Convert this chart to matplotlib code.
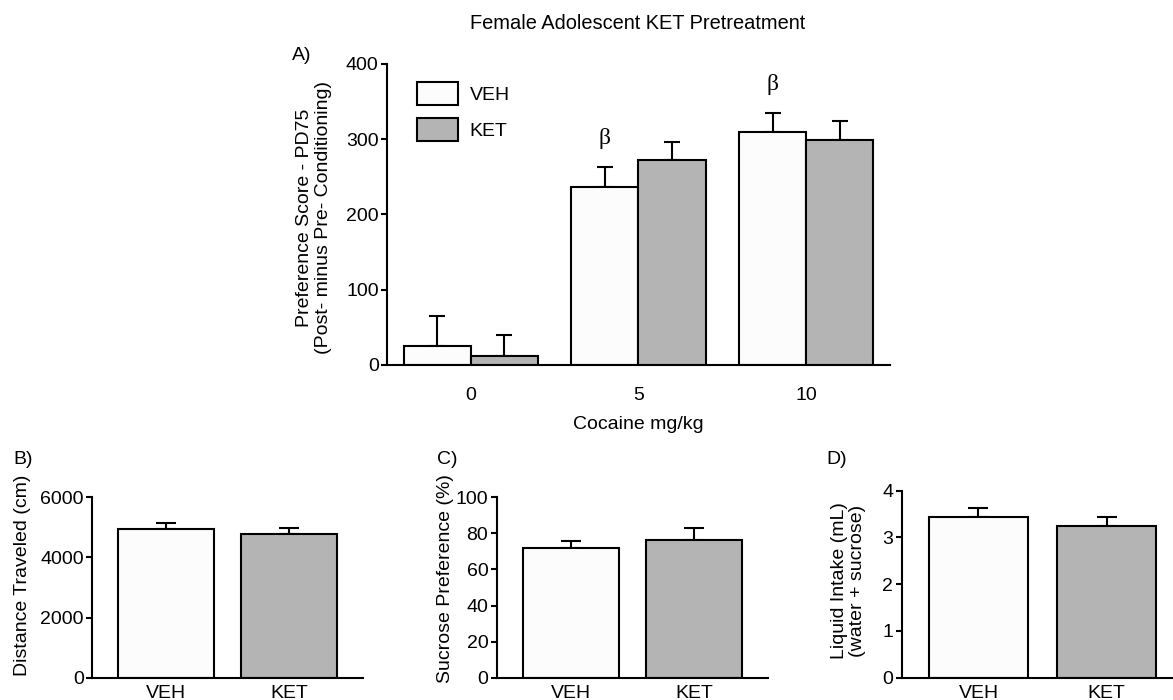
import matplotlib

matplotlib.use("Agg")
import matplotlib.pyplot as plt  # noqa: E402
from matplotlib.patches import Patch  # noqa: E402

plt.rcParams["font.family"] = ["Liberation Sans", "DejaVu Sans"]
plt.rcParams["font.size"] = 14

# Panel A: CPP score by cocaine dose
doses = ["0", "5", "10"]
veh_score = [25.6, 236.5, 309.0]
veh_score_err = [40.0, 27.0, 25.5]
ket_score = [12.4, 272.8, 298.6]
ket_score_err = [27.0, 23.5, 25.5]
beta_marks = [False, True, True]  # beta above VEH bar

# Panels B-D: VEH vs KET
groups = ["VEH", "KET"]
distance = [4945, 4770]
distance_err = [200, 200]
sucrose = [71.7, 76.5]
sucrose_err = [4.3, 6.2]
intake = [3.44, 3.24]
intake_err = [0.19, 0.19]

VEH_C = "#fcfcfc"
KET_C = "#b4b4b4"
LW = 1.5


def style(ax, top, ticks):
    for s in ("top", "right"):
        ax.spines[s].set_visible(False)
    for s in ("left", "bottom"):
        ax.spines[s].set_linewidth(LW)
    ax.set_ylim(0, top)
    ax.set_yticks(ticks)
    ax.tick_params(axis="y", length=4, width=LW, pad=2, labelsize=14)
    ax.tick_params(axis="x", length=0, labelsize=14)


def small(ax, vals, errs, top, ticks, ylabel, lab_xy):
    xs = range(len(groups))
    ax.bar(xs, vals, width=0.78, color=[VEH_C, KET_C], edgecolor="black",
           linewidth=LW, zorder=2)
    ax.errorbar(xs, vals, yerr=[[0] * len(vals), errs], fmt="none",
                ecolor="black", elinewidth=LW, capsize=7, capthick=LW, zorder=1)
    style(ax, top, ticks)
    ax.set_xticks(list(xs))
    ax.set_xticklabels(groups)
    ax.tick_params(axis="x", pad=5)
    ax.set_ylabel(ylabel, va="center", fontsize=14)
    ax.yaxis.set_label_coords(*lab_xy)


fig = plt.figure(figsize=(11.73, 7.0), dpi=100)

# --- A ---
axA = fig.add_axes([0.3299, 0.4786, 0.4288, 0.43])
x = list(range(len(doses)))
w = 0.4
xv = [i - w / 2 for i in x]
xk = [i + w / 2 for i in x]
axA.bar(xv, veh_score, width=w, color=VEH_C, edgecolor="black",
        linewidth=LW, zorder=2, label="VEH")
axA.bar(xk, ket_score, width=w, color=KET_C, edgecolor="black",
        linewidth=LW, zorder=2, label="KET")
axA.errorbar(xv, veh_score, yerr=[[0] * 3, veh_score_err], fmt="none",
             ecolor="black", elinewidth=LW, capsize=6, capthick=LW, zorder=1)
axA.errorbar(xk, ket_score, yerr=[[0] * 3, ket_score_err], fmt="none",
             ecolor="black", elinewidth=LW, capsize=6, capthick=LW, zorder=1)
for xi, v, e, mark in zip(xv, veh_score, veh_score_err, beta_marks):
    if mark:
        axA.text(xi, v + e + 38, "β", ha="center", va="center", fontsize=17,
                 family=["Liberation Serif", "DejaVu Serif"])
style(axA, 400, [0, 100, 200, 300, 400])
axA.set_xlim(-0.5, 2.5)
axA.set_xticks(x)
axA.set_xticklabels(doses)
axA.tick_params(axis="x", pad=15.5)
axA.set_xlabel("Cocaine mg/kg", fontsize=14, labelpad=9)
axA.set_ylabel("Preference Score - PD75\n(Post- minus Pre- Conditioning)",
               va="center", fontsize=14, linespacing=1.1)
axA.yaxis.set_label_coords(-0.145, 0.49)
axA.legend(handles=[Patch(facecolor=VEH_C, edgecolor="black", linewidth=LW, label="VEH"),
                    Patch(facecolor=KET_C, edgecolor="black", linewidth=LW, label="KET")],
           loc="upper left", bbox_to_anchor=(0.041, 0.972), frameon=False,
           handlelength=2.1, handleheight=1.4, handletextpad=0.6,
           labelspacing=0.7, borderpad=0, fontsize=14)

# --- B, C, D ---
axB = fig.add_axes([0.0784, 0.0319, 0.231, 0.2577])
small(axB, distance, distance_err, 6000, [0, 2000, 4000, 6000],
      "Distance Traveled (cm)", (-0.255, 0.57))
axB.set_xlim(-0.6, 1.6)

axC = fig.add_axes([0.4234, 0.0319, 0.2313, 0.2577])
small(axC, sucrose, sucrose_err, 100, [0, 20, 40, 60, 80, 100],
      "Sucrose Preference (%)", (-0.19, 0.547))
axC.set_xlim(-0.6, 1.6)

axD = fig.add_axes([0.7687, 0.0319, 0.2401, 0.2671])
small(axD, intake, intake_err, 4, [0, 1, 2, 3, 4],
      "Liquid Intake (mL)\n(water + sucrose)", (-0.19, 0.517))
axD.set_xlim(-0.6, 1.6)
axD.yaxis.label.set_linespacing(1.1)

fig.text(0.544, 0.967, "Female Adolescent KET Pretreatment", ha="center",
         va="center", fontsize=14.4)
fig.text(0.257, 0.921, "A)", ha="center", va="center", fontsize=14)
fig.text(0.0196, 0.343, "B)", ha="center", va="center", fontsize=14)
fig.text(0.381, 0.343, "C)", ha="center", va="center", fontsize=14)
fig.text(0.7135, 0.343, "D)", ha="center", va="center", fontsize=14)

fig.savefig("out.png", dpi=100)
